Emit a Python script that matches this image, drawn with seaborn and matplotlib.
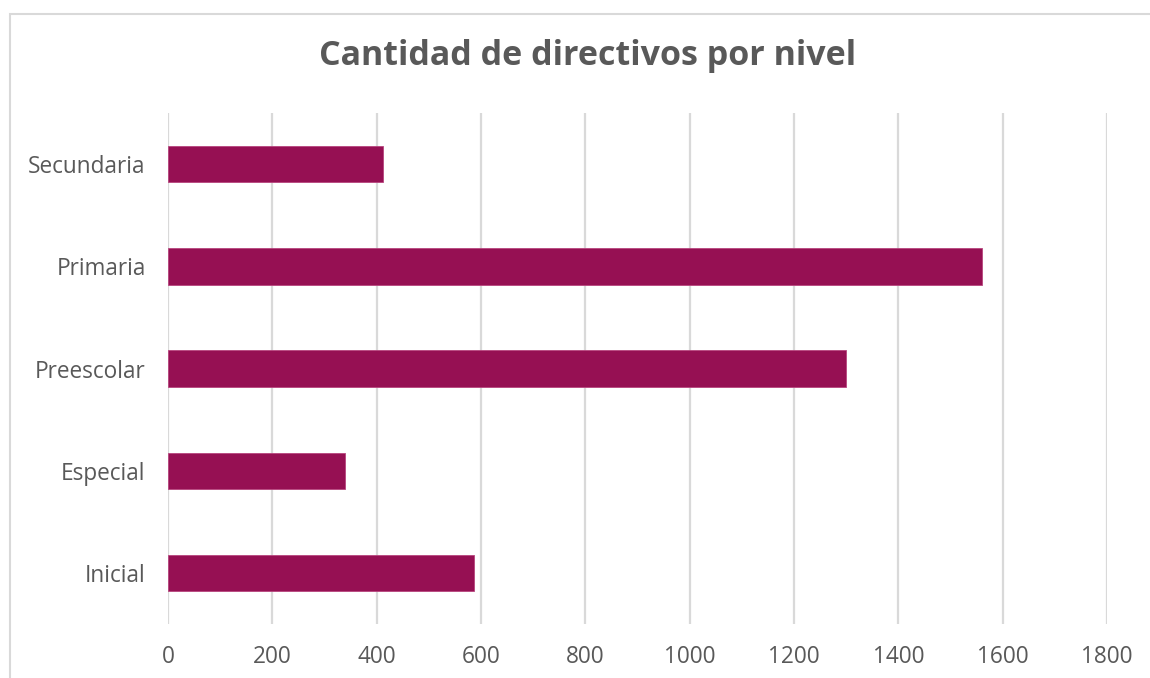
import matplotlib
matplotlib.use("Agg")
import matplotlib.pyplot as plt
import matplotlib.patches as mpatches
import seaborn as sns
import pandas as pd

# Data
niveles = ["Secundaria", "Primaria", "Preescolar", "Especial", "Inicial"]
directivos = [413, 1561, 1300, 339, 587]
x_ticks = [0, 200, 400, 600, 800, 1000, 1200, 1400, 1600, 1800]

df = pd.DataFrame({"nivel": niveles, "cantidad": directivos})

sns.set_theme(style="white")
plt.rcParams["font.family"] = ["Open Sans", "DejaVu Sans"]

fig = plt.figure(figsize=(11.5, 6.78), dpi=100)
ax = fig.add_axes([0.146, 0.0796, 0.8166, 0.7537])

sns.barplot(
    data=df, x="cantidad", y="nivel", order=niveles, orient="h",
    color="#961053", saturation=1, width=0.356,
    edgecolor="#b8457e", linewidth=0.6, ax=ax,
)

ax.set_xlim(0, 1800)
ax.set_xticks(x_ticks)
ax.set_xticklabels([str(t) for t in x_ticks])
ax.xaxis.grid(True, color="#d9d9d9", linewidth=1.6)
ax.set_axisbelow(True)
for s in ax.spines.values():
    s.set_visible(False)
ax.tick_params(axis="x", length=0, pad=15, labelsize=16.3, labelcolor="#595959")
ax.tick_params(axis="y", length=0, pad=16, labelsize=16.3, labelcolor="#595959")
ax.set_xlabel("")
ax.set_ylabel("")

fig.text(0.511, 0.917, "Cantidad de directivos por nivel", ha="center", va="center",
         fontsize=24.5, fontweight="bold", color="#595959")

# outer chart frame (partially visible in the reference)
frame = mpatches.Rectangle((10 / 1150, -0.05), 1.2, 1 - 14 / 678 + 0.05,
                           transform=fig.transFigure, fill=False,
                           edgecolor="#d9d9d9", linewidth=1.5)
fig.patches.append(frame)

fig.savefig("out.png", dpi=100)
